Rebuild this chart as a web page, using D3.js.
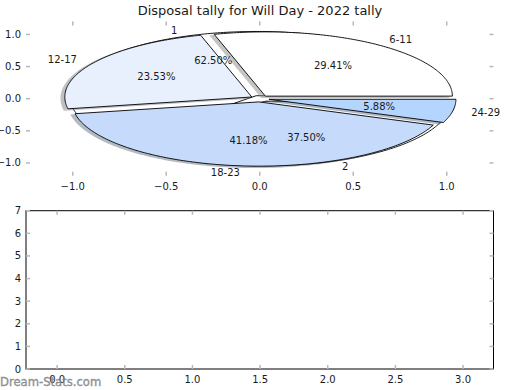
<!DOCTYPE html>
<html>
<head>
<meta charset="utf-8">
<script src="https://cdn.jsdelivr.net/npm/d3@7"></script>
<style>
  body { margin: 0; background: #fff; }
  text { font-family: "DejaVu Sans", sans-serif; }
</style>
</head>
<body>
<svg id="chart" width="520" height="390"></svg>
<script>
// chart data
var chartTitle = "Disposal tally for Will Day - 2022 tally";
var ageGroups = ["6-11", "12-17", "18-23", "24-29"];
var ageCounts = [5, 4, 7, 1];
var ageColors = ["#ffffff", "#e8f0fe", "#c6dafc", "#b4d5fe"];
var roundLabels = ["1", "2"];
var roundCounts = [5, 3];
var roundColors = ["#ffffff", "#ffffff"];
var explode = 0.05;
var xTicksTop = [-1.0, -0.5, 0.0, 0.5, 1.0];
var yTicksTop = [-1.0, -0.5, 0.0, 0.5, 1.0];
var xTicksBottom = [0, 0.5, 1, 1.5, 2, 2.5, 3];
var yTicksBottom = [0, 1, 2, 3, 4, 5, 6, 7];
var watermark = "Dream-Stats.com";

var svg = d3.select("#chart");
var tickColor = "#b8b8b8",
	labelColor = "#1a1a1a",
	fmt = d3.format(".1f");

/*
 * Axes boxes
 */
var left = 26, right = 493.5;

var xTop = d3.scaleLinear().domain([-1.25, 1.25]).range([left, right]);
var yTop = d3.scaleLinear().domain([-1.2, 1.2]).range([175.8, 21.6]);

var xBot = d3.scaleLinear().domain([-0.23, 3.225]).range([left, right]);
var yBot = d3.scaleLinear().domain([0, 7]).range([369, 210.7]);

svg.append("text")
	.attr("x", 260)
	.attr("y", 14.5)
	.attr("text-anchor", "middle")
	.style("font-size", "13px")
	.attr("fill", labelColor)
	.text(chartTitle);

// inward grey ticks on all four sides, like the reference
function drawTicks(g, x, y, xt, yt) {
	var x0 = x.range()[0], x1 = x.range()[1],
		y0 = y.range()[0], y1 = y.range()[1],
		len = 4;
	xt.forEach(function(v) {
		g.append("line").attr("x1", x(v)).attr("x2", x(v)).attr("y1", y0).attr("y2", y0 - len);
		g.append("line").attr("x1", x(v)).attr("x2", x(v)).attr("y1", y1).attr("y2", y1 + len);
	});
	yt.forEach(function(v) {
		g.append("line").attr("y1", y(v)).attr("y2", y(v)).attr("x1", x0).attr("x2", x0 + len);
		g.append("line").attr("y1", y(v)).attr("y2", y(v)).attr("x1", x1).attr("x2", x1 - len);
	});
	g.selectAll("line").attr("stroke", tickColor).attr("stroke-width", 1.5);
}

function drawLabels(g, x, y, xt, yt, xf, yf) {
	g.selectAll(".xl").data(xt).enter().append("text")
		.attr("x", function(d) { return x(d); })
		.attr("y", y.range()[0] + 14)
		.attr("text-anchor", "middle")
		.text(xf);
	g.selectAll(".yl").data(yt).enter().append("text")
		.attr("x", x.range()[0] - 5)
		.attr("y", function(d) { return y(d); })
		.attr("dy", "0.35em")
		.attr("text-anchor", "end")
		.text(yf);
	g.selectAll("text").style("font-size", "10px").attr("fill", labelColor);
}

/*
 * Top axes: two pies on top of each other
 */
var topAx = svg.append("g");
drawTicks(topAx.append("g"), xTop, yTop, xTicksTop, yTicksTop);
drawLabels(topAx.append("g"), xTop, yTop, xTicksTop, yTicksTop, fmt, fmt);

var pie = d3.pie().sort(null).value(function(d) { return d; });

function wedgePath(cx, cy, a0, a1) {
	var pts = [[cx, cy]],
		n = Math.max(2, Math.ceil((a1 - a0) / (Math.PI / 180))),
		i, a;
	for(i = 0; i <= n; i++) {
		a = a0 + (a1 - a0) * i / n;
		pts.push([cx + Math.cos(a), cy + Math.sin(a)]);
	}
	return d3.line()
		.x(function(d) { return xTop(d[0]); })
		.y(function(d) { return yTop(d[1]); })(pts) + "Z";
}

function layoutPie(values, labels, colors) {
	return pie(values).map(function(d, i) {
		var mid = (d.startAngle + d.endAngle) / 2;
		return {
			label: labels[i],
			color: colors[i],
			a0: d.startAngle,
			a1: d.endAngle,
			mid: mid,
			cx: explode * Math.cos(mid),
			cy: explode * Math.sin(mid),
			pct: d3.format(".2f")(100 * (d.endAngle - d.startAngle) / (2 * Math.PI)) + "%"
		};
	});
}

var agePie = layoutPie(ageCounts, ageGroups, ageColors);
var roundPie = layoutPie(roundCounts, roundLabels, roundColors);

var pieG = topAx.append("g");

// second pie sits underneath
pieG.selectAll(".round").data(roundPie).enter().append("path")
	.attr("d", function(d) { return wedgePath(d.cx, d.cy, d.a0, d.a1); })
	.attr("fill", function(d) { return d.color; })
	.attr("stroke", "#000")
	.attr("stroke-width", 0.9);

// shadows for the age pie
pieG.selectAll(".shadow").data(agePie).enter().append("path")
	.attr("d", function(d) { return wedgePath(d.cx - 0.02, d.cy - 0.02, d.a0, d.a1); })
	.attr("fill", function(d) { return d3.rgb(d.color).darker(1.7); })
	.attr("stroke", function(d) { return d3.rgb(d.color).darker(1.7); })
	.attr("stroke-width", 1.2)
	.attr("opacity", 0.5);

pieG.selectAll(".age").data(agePie).enter().append("path")
	.attr("d", function(d) { return wedgePath(d.cx, d.cy, d.a0, d.a1); })
	.attr("fill", function(d) { return d.color; })
	.attr("stroke", "#000")
	.attr("stroke-width", 0.9);

var pieText = topAx.append("g");
agePie.concat(roundPie).forEach(function(d) {
	var c = Math.cos(d.mid), s = Math.sin(d.mid);
	pieText.append("text")
		.attr("x", xTop(d.cx + 1.1 * c))
		.attr("y", yTop(d.cy + 1.1 * s))
		.attr("dy", "0.35em")
		.attr("text-anchor", c > 0 ? "start" : "end")
		.text(d.label);
	pieText.append("text")
		.attr("x", xTop(d.cx + 0.6 * c))
		.attr("y", yTop(d.cy + 0.6 * s))
		.attr("dy", "0.35em")
		.attr("text-anchor", "middle")
		.text(d.pct);
});
pieText.selectAll("text").style("font-size", "10px").attr("fill", labelColor);

/*
 * Bottom axes: empty frame
 */
var botAx = svg.append("g");
botAx.append("rect")
	.attr("x", left)
	.attr("y", yBot.range()[1])
	.attr("width", right - left)
	.attr("height", yBot.range()[0] - yBot.range()[1])
	.attr("fill", "none")
	.attr("stroke", "#000")
	.attr("stroke-width", 1);
drawTicks(botAx.append("g"), xBot, yBot, xTicksBottom, yTicksBottom);
drawLabels(botAx.append("g"), xBot, yBot, xTicksBottom, yTicksBottom, fmt, d3.format("d"));

svg.append("text")
	.attr("x", 0)
	.attr("y", 385.5)
	.style("font-size", "11.6px")
	.attr("fill", "#858585")
	.attr("stroke", "#858585")
	.attr("stroke-width", 0.35)
	.attr("opacity", 0.9)
	.text(watermark);
</script>
</body>
</html>
